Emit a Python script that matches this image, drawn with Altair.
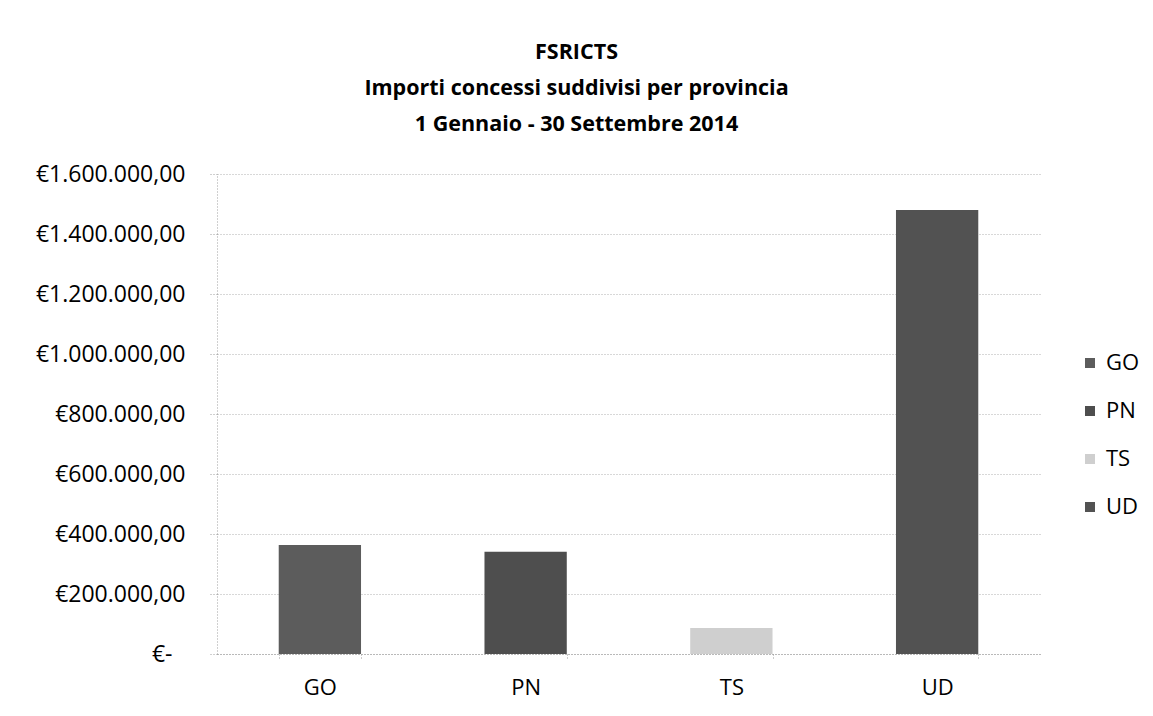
import altair as alt
import pandas as pd

province = ["GO", "PN", "TS", "UD"]
importi = [363000, 341000, 87000, 1480000]
colori = ["#5c5c5c", "#4e4e4e", "#cfcfcf", "#525252"]

df = pd.DataFrame({"Provincia": province, "Importo": importi})

FONT = "Open Sans"

label_expr = (
    "datum.value == 0 ? '€-' : '€' + "
    "replace(replace(replace(format(datum.value, ',.2f'), /,/g, '_'), '.', ','), /_/g, '.')"
)

bars = alt.Chart(df).mark_bar().encode(
    x=alt.X(
        "Provincia:N",
        sort=province,
        title=None,
        scale=alt.Scale(paddingInner=0.6, paddingOuter=0.3),
        axis=alt.Axis(
            labelAngle=0,
            labelFont=FONT,
            labelFontSize=22,
            labelColor="#000000",
            labelPadding=18,
            tickBand="extent",
            ticks=True,
            tickSize=5,
            tickColor="#9a9a9a",
            tickDash=[1, 2],
            domain=True,
            domainColor="#9a9a9a",
            domainDash=[1, 2],
            grid=False,
        ),
    ),
    y=alt.Y(
        "Importo:Q",
        title=None,
        scale=alt.Scale(domain=[0, 1600000]),
        axis=alt.Axis(
            values=[0, 200000, 400000, 600000, 800000, 1000000, 1200000, 1400000, 1600000],
            labelExpr=label_expr,
            labelFont=FONT,
            labelFontSize=23,
            labelColor="#000000",
            labelPadding={"condition": {"test": "datum.value == 0", "value": 37}, "value": 24},
            ticks=True,
            tickSize=8,
            tickColor="#a0a0a0",
            tickDash=[1, 2],
            domain=True,
            domainColor="#a0a0a0",
            domainDash=[1, 2],
            grid=True,
            gridColor="#b0b0b0",
            gridDash=[1, 2],
            gridWidth=1,
        ),
    ),
    color=alt.Color(
        "Provincia:N",
        sort=province,
        scale=alt.Scale(domain=province, range=colori),
        legend=alt.Legend(
            title=None,
            orient="none",
            legendX=862,
            legendY=178,
            symbolType="square",
            symbolSize=100,
            symbolStrokeWidth=0,
            labelFont=FONT,
            labelFontSize=22,
            labelColor="#000000",
            labelOffset=5,
            rowPadding=26,
            padding=0,
        ),
    ),
)

chart = bars.properties(
    width=823,
    height=480,
    background="#ffffff",
    title=alt.Title(
        text=[
            "FSRICTS",
            "Importi concessi suddivisi per provincia",
            "1 Gennaio - 30 Settembre 2014",
        ],
        font=FONT,
        fontSize=21.5,
        fontWeight="bold",
        color="#000000",
        lineHeight=36,
        anchor="middle",
        dx=-52,
        offset=28,
    ),
    autosize=alt.AutoSizeParams(type="none"),
    padding={"left": 209, "top": 166, "right": 105, "bottom": 46},
).configure_view(stroke=None)

chart.save("out.html", embed_options={"renderer": "svg", "actions": False})
